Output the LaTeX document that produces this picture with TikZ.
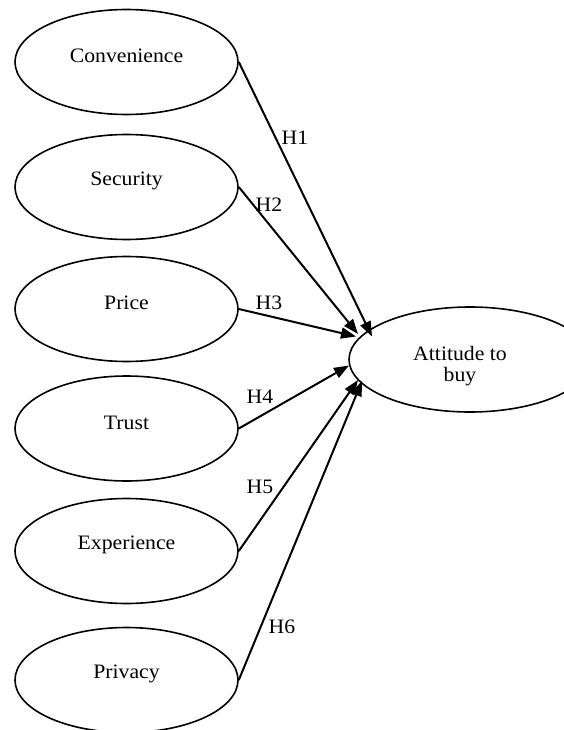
\documentclass[tikz,border=0pt]{standalone}
\usepackage{fontspec}
\setmainfont{Liberation Serif}[FakeStretch=1.06]
\usetikzlibrary{shapes.geometric,arrows.meta,calc}
\begin{document}
\begin{tikzpicture}[x=1pt,y=-1pt,
  oval/.style={ellipse, draw, line width=1.6pt, minimum width=223pt, minimum height=105pt, inner sep=0pt},
  txt/.style={font=\fontsize{20.5}{24}\selectfont, inner sep=0pt},
  inlbl/.style={txt, anchor=base, yshift=6pt},
  hyp/.style={-{Triangle[length=15pt,width=11pt]}, line width=2pt},
  hlbl/.style={txt}
]
\useasboundingbox (0,0) rectangle (564,730);
\node[oval, label={[inlbl]center:Convenience}] (conv) at (126.5,62) {};
\node[oval, label={[inlbl]center:Security}] (sec) at (126.5,187) {};
\node[oval, label={[inlbl]center:Price}] (price) at (126.5,309) {};
\node[oval, label={[inlbl]center:Trust}] (trust) at (126.5,428.5) {};
\node[oval, label={[inlbl]center:Experience}] (exp) at (126.5,551) {};
\node[oval, label={[inlbl]center:Privacy}] (priv) at (126.5,680) {};
\node[oval, minimum width=242pt,
  label={[inlbl, xshift=-10pt, yshift=0.5pt]center:Attitude to},
  label={[txt, anchor=base, xshift=-10pt, yshift=-17.5pt]center:buy}] (att) at (470,359.5) {};

\draw[hyp] (conv.east) -- ($(att.center)+(-98,-23)$);
\draw[hyp] (sec.east) -- ($(att.center)+(-112,-25.5)$);
\draw[hyp] (price.east) -- ($(att.center)+(-114,-23)$);
\draw[hyp] (trust.east) -- ($(att.center)+(-121,6)$);
\draw[hyp] (exp.east) -- ($(att.center)+(-112,20.5)$);
\draw[hyp] (priv.east) -- ($(att.center)+(-108,21.5)$);

\node[hlbl] (h1) at (295,138) {H1};
\node[hlbl] (h2) at (269,205) {H2};
\node[hlbl] (h3) at (269,303) {H3};
\node[hlbl] (h4) at (260,397) {H4};
\node[hlbl] (h5) at (260,487) {H5};
\node[hlbl] (h6) at (282,627) {H6};
\end{tikzpicture}
\end{document}
